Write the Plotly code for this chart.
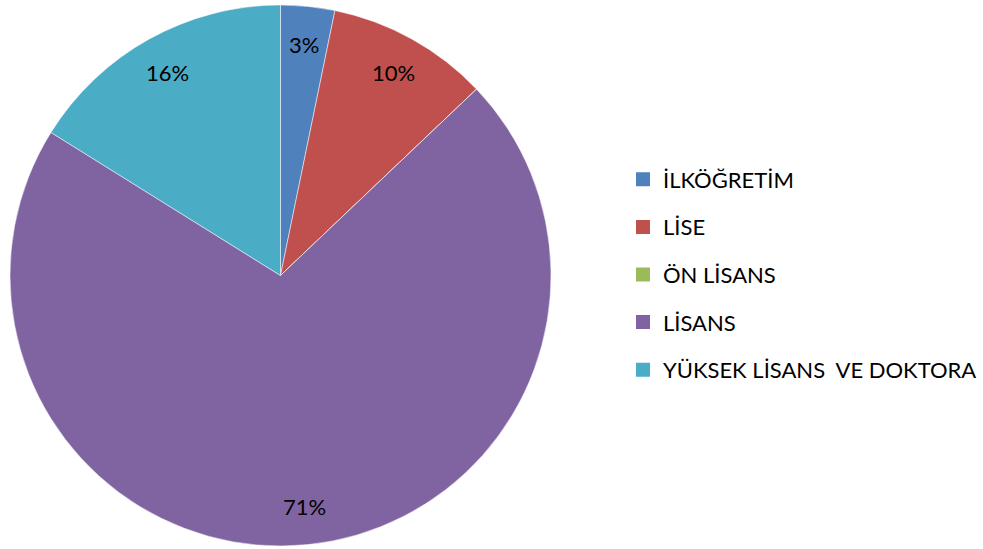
import math
import plotly.graph_objects as go

categories = ["İLKÖĞRETİM", "LİSE", "ÖN LİSANS", "LİSANS", "YÜKSEK LİSANS\u00a0\u00a0VE DOKTORA"]
counts = [2, 6, 0, 44, 10]
colors = ["#4F81BD", "#C0504D", "#9BBB59", "#8064A2", "#4BACC6"]

W, H = 983, 549
FONT = "Lato"
FS = 22

# pie domain (paper fractions)
dx0, dx1 = 10 / W, 551 / W
dy0, dy1 = 3 / H, 544 / H

fig = go.Figure()
fig.add_trace(go.Pie(
    labels=categories,
    values=counts,
    sort=False,
    direction="clockwise",
    rotation=0,
    marker=dict(colors=colors, line=dict(color="white", width=0.5)),
    textinfo="none",
    showlegend=False,
    hoverinfo="label+percent",
    domain=dict(x=[dx0, dx1], y=[dy0, dy1]),
))

# percentage labels placed along each slice's mid-angle (Excel "best fit" style)
total = sum(counts)
cx_px = (dx0 + dx1) / 2 * W
cy_px = (dy0 + dy1) / 2 * H
r_px = min((dx1 - dx0) * W, (dy1 - dy0) * H) / 2
cum = 0
for v in counts:
    if v > 0:
        mid = (cum + v / 2) / total * 2 * math.pi
        rr = 0.86 * r_px
        px = cx_px + rr * math.sin(mid)
        py = cy_px + rr * math.cos(mid)
        fig.add_annotation(
            x=px / W, y=py / H, xref="paper", yref="paper",
            text=f"{round(100 * v / total)}%", showarrow=False,
            font=dict(family=FONT, size=FS, color="black"),
            xanchor="center", yanchor="middle",
        )
    cum += v

for name, col in zip(categories, colors):
    fig.add_trace(go.Scatter(
        x=[None], y=[None], mode="markers", name=name,
        legendgroup=name,
        marker=dict(symbol="square", size=14, color=col),
        showlegend=True,
    ))

fig.update_layout(
    width=W, height=H,
    margin=dict(l=0, r=0, t=0, b=0),
    paper_bgcolor="white",
    plot_bgcolor="white",
    xaxis=dict(visible=False),
    yaxis=dict(visible=False),
    legend=dict(
        x=623 / W, y=0.5, xanchor="left", yanchor="middle",
        font=dict(family=FONT, size=FS, color="black"),
        tracegroupgap=16,
        itemclick=False,
    ),
)

fig.write_html("out.html", config={"displayModeBar": False},
               post_script="document.body.style.margin='0';")
